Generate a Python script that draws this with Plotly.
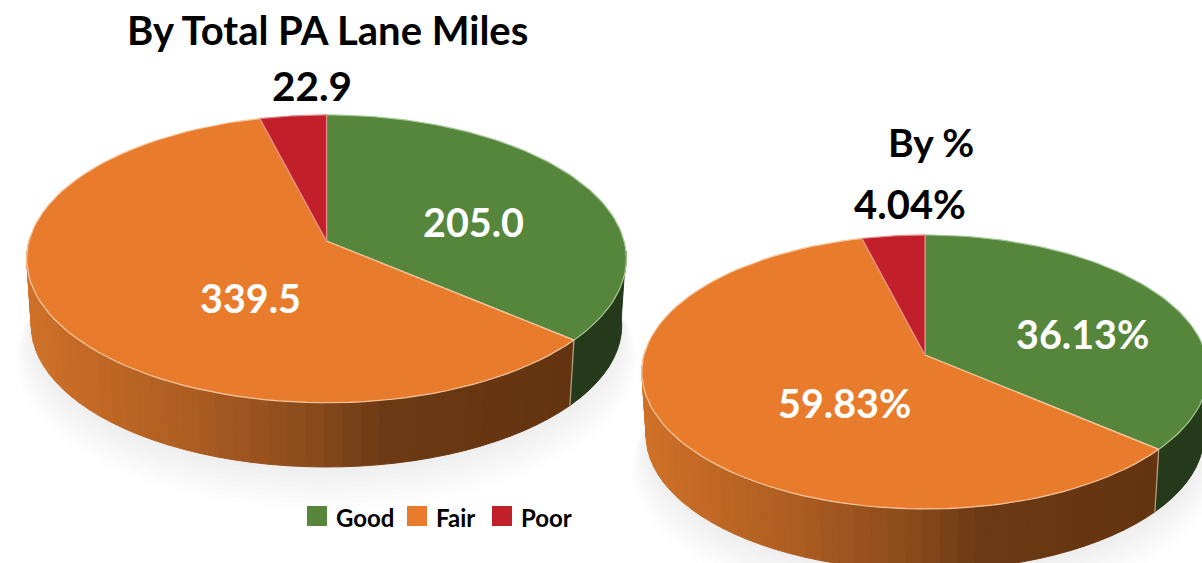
import numpy as np
import plotly.graph_objects as go

categories = ["Good", "Fair", "Poor"]
lane_miles = [205.0, 339.5, 22.9]
percent = [36.13, 59.83, 4.04]

face_colors = ["#55863c", "#e87c2c", "#c1202b"]
rim_colors = ["#a4c796", "#f9c8a0", "#e58a8a"]
green_side = "#25391b"

# pie geometry (plot units equal screen pixels): centre, half axes, perspective, depth
pies = [
    dict(values=lane_miles, cx=326.5, cy=241, a=297.5, b=141.7, k=0.124, depth=67, shrink=0.985),
    dict(values=percent, cx=925, cy=355, a=281.0, b=134.9, k=0.124, depth=64, shrink=0.985),
]


def project(p, theta, scale=1.0, dy=0.0):
    X, Y = np.sin(theta) * scale, np.cos(theta) * scale
    w = 1 + p["k"] * Y
    return p["cx"] + p["a"] * X / w, p["cy"] + dy - p["b"] * Y / w


def side_color(t):
    # t = 0 at the left of the pie, 1 at the right
    stops = [0.0, 0.3, 0.5, 0.65, 1.0]
    reds = [207, 172, 140, 108, 100]
    greens = [113, 92, 76, 58, 52]
    blues = [40, 34, 28, 20, 16]
    return "rgb(%d,%d,%d)" % (np.interp(t, stops, reds), np.interp(t, stops, greens), np.interp(t, stops, blues))


fig = go.Figure()


def poly(x, y, fill, line=None, width=1.0):
    fig.add_trace(go.Scatter(
        x=list(x), y=list(y), mode="lines", fill="toself", fillcolor=fill,
        line=dict(color=line or fill, width=width), hoverinfo="skip", showlegend=False))


def side_band(p, t0, t1):
    th = np.linspace(t0, t1, 12)
    x0, y0 = project(p, th)
    x1, y1 = project(p, th[::-1], p["shrink"], p["depth"])
    return np.r_[x0, x1, x0[0]], np.r_[y0, y1, y0[0]]


for p in pies:
    vals = np.array(p["values"], dtype=float)
    edges = np.r_[0, np.cumsum(vals) / vals.sum()] * 2 * np.pi

    # soft shadow
    for i in range(8):
        th = np.linspace(0, 2 * np.pi, 120)
        sx, sy = project(p, th, 0.985 + 0.007 * i, p["depth"] + 5 + 4 * i)
        poly(sx, sy, "rgba(90,100,110,0.012)", "rgba(0,0,0,0)", 0)

    # side wall: green then orange strips
    left_limit = np.radians(272)
    right_limit = np.radians(94)
    gx, gy = side_band(p, right_limit, edges[1])
    poly(gx, gy, green_side)
    strips = np.linspace(edges[1], left_limit, 46)
    xl, xr = p["cx"] - p["a"], p["cx"] + p["a"] * 0.85
    for t0, t1 in zip(strips[:-1], strips[1:]):
        mx, _ = project(p, (t0 + t1) / 2)
        c = side_color((mx - xl) / (xr - xl))
        sx, sy = side_band(p, t0, t1)
        poly(sx, sy, c)
    # pale seam between the two side colours
    ex0, ey0 = project(p, edges[1])
    ex1, ey1 = project(p, edges[1], p["shrink"], p["depth"])
    fig.add_trace(go.Scatter(x=[ex0, ex1], y=[ey0, ey1], mode="lines",
                             line=dict(color="#b9a58a", width=1.2), hoverinfo="skip", showlegend=False))

    # top face
    for i in range(len(vals)):
        th = np.linspace(edges[i], edges[i + 1], 90)
        fx, fy = project(p, th)
        poly(np.r_[p["cx"], fx, p["cx"]], np.r_[p["cy"], fy, p["cy"]], face_colors[i], rim_colors[i], 1.2)

FONT = "Lato"

# key: swatch and name for each category
key_swatch_x = [317, 417, 502]
key_text_x = [334, 434, 519]
key_y = 516
for name, col, sx, tx in zip(categories, face_colors, key_swatch_x, key_text_x):
    fig.add_trace(go.Scatter(x=[sx], y=[key_y], mode="markers", name=name, showlegend=False,
                             marker=dict(symbol="square", size=20, color=col, line=dict(width=0)),
                             hoverinfo="skip"))
    fig.add_annotation(x=tx, y=key_y + 1, text=f"<b>{name}</b>", showarrow=False, xanchor="left", yanchor="middle",
                       font=dict(family=FONT, size=24, color="black"))

labels = [
    ("By Total PA Lane Miles", 327, 30, "black", 40),
    (f"{lane_miles[2]:.1f}", 312, 85, "black", 40.5),
    (f"{lane_miles[0]:.1f}", 473, 221, "white", 39.5),
    (f"{lane_miles[1]:.1f}", 250, 297, "white", 39.5),
    ("By %", 931, 142, "black", 39),
    (f"{percent[2]:.2f}%", 910, 204, "black", 40),
    (f"{percent[0]:.2f}%", 1082, 333, "white", 39.5),
    (f"{percent[1]:.2f}%", 844, 402, "white", 39.5),
]
for text, x, y, color, size in labels:
    fig.add_annotation(x=x, y=y, text=f"<b>{text}</b>", showarrow=False, xanchor="center", yanchor="middle",
                       font=dict(family=FONT, size=size, color=color))

fig.update_layout(
    width=1202, height=563, margin=dict(l=0, r=0, t=0, b=0),
    paper_bgcolor="white", plot_bgcolor="white", autosize=False, showlegend=False,
    xaxis=dict(range=[0, 1202], visible=False, fixedrange=True),
    yaxis=dict(range=[563, 0], visible=False, fixedrange=True),
)
fig.write_html("out.html", config=dict(displayModeBar=False),
               post_script="document.body.style.margin='0';document.body.style.overflow='hidden';")
